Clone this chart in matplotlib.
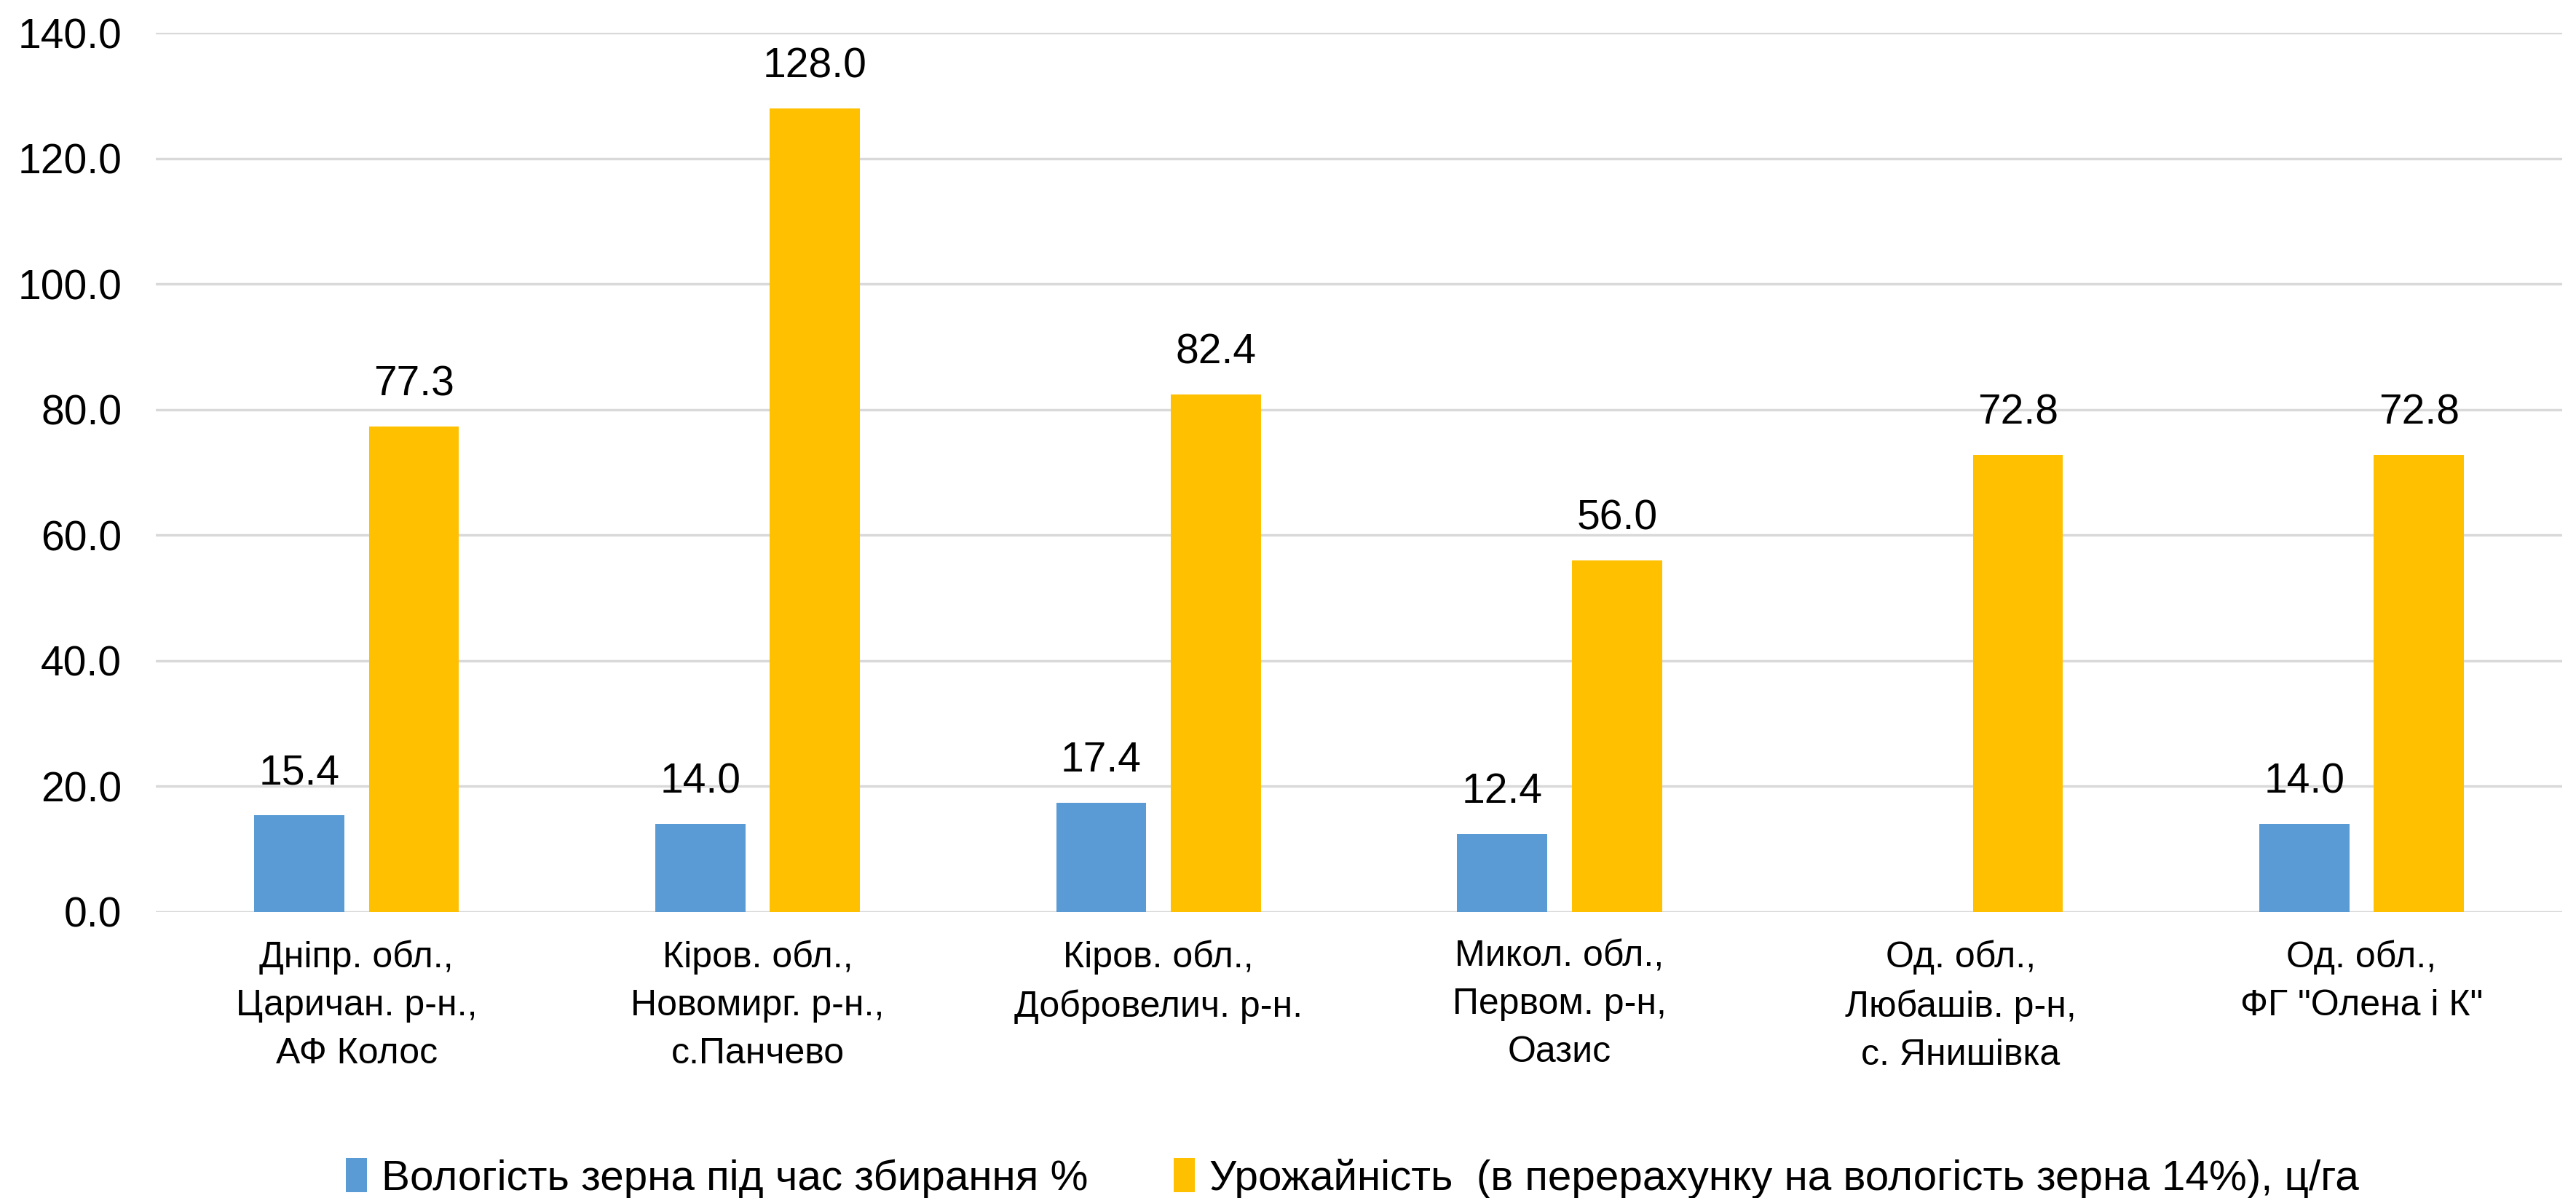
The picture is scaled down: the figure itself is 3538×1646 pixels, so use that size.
import matplotlib
matplotlib.use("Agg")
import matplotlib.pyplot as plt
import numpy as np

categories = [
    "Дніпр. обл.,\nЦаричан. р-н.,\nАФ Колос",
    "Кіров. обл.,\nНовомирг. р-н.,\nс.Панчево",
    "Кіров. обл.,\nДобровелич. р-н.",
    "Микол. обл.,\nПервом. р-н,\nОазис",
    "Од. обл.,\nЛюбашів. р-н,\nс. Янишівка",
    "Од. обл.,\nФГ \"Олена і К\"",
]
moisture = [15.4, 14.0, 17.4, 12.4, np.nan, 14.0]
yield_ = [77.3, 128.0, 82.4, 56.0, 72.8, 72.8]
series_names = [
    "Вологість зерна під час збирання %",
    "Урожайність  (в перерахунку на вологість зерна 14%), ц/га",
]
yticks = [0, 20, 40, 60, 80, 100, 120, 140]

plt.rcParams['font.family'] = ['Liberation Sans', 'DejaVu Sans']

fig = plt.figure(figsize=(35.38, 16.46), dpi=100)
ax = fig.add_axes([0.0606, 0.239, 0.934, 0.7336])

x = np.arange(len(categories))
w = 0.225
off = 0.143
c_blue = "#5B9BD5"
c_yel = "#FFC000"
b1 = ax.bar(x - off, moisture, w, color=c_blue, label=series_names[0], zorder=3)
b2 = ax.bar(x + off, yield_, w, color=c_yel, label=series_names[1], zorder=3)

fs_val = 41
for xi, v in zip(x - off, moisture):
    if not np.isnan(v):
        ax.annotate(f"{v:.1f}", (xi, v), xytext=(0, 22), textcoords="offset points",
                    ha="center", va="bottom", fontsize=fs_val, color="#000000")
for xi, v in zip(x + off, yield_):
    ax.annotate(f"{v:.1f}", (xi, v), xytext=(0, 22), textcoords="offset points",
                ha="center", va="bottom", fontsize=fs_val, color="#000000")

ax.set_xlim(-0.5, len(categories) - 0.5)
ax.set_ylim(0, 140)
ax.set_yticks(yticks)
ax.set_yticklabels([f"{t:.1f}" for t in yticks], fontsize=41)
ax.set_xticks(x)
ax.set_xticklabels(categories, fontsize=36, linespacing=1.55)
ax.tick_params(axis='y', length=0, pad=34)
ax.tick_params(axis='x', length=0, pad=28)
ax.grid(axis='y', color="#D9D9D9", linewidth=2.5, zorder=0)
ax.set_axisbelow(True)
for s in ax.spines.values():
    s.set_visible(False)

fig.legend(handles=[b1, b2], labels=series_names, loc="center",
           bbox_to_anchor=(0.525, 0.0165), ncol=2, frameon=False, fontsize=42,
           handlelength=0.5, handleheight=0.85, handletextpad=0.35, columnspacing=2.0)

fig.savefig("out.png", dpi=100, facecolor="white")
